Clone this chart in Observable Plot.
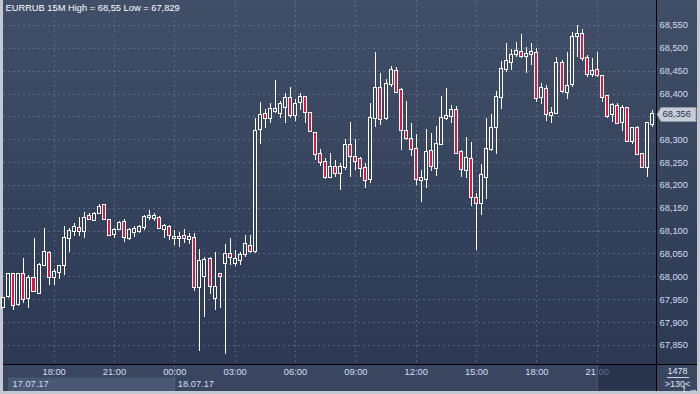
<!DOCTYPE html>
<html>
<head>
<meta charset="utf-8">
<script src="https://cdn.jsdelivr.net/npm/d3@7"></script>
<script src="https://cdn.jsdelivr.net/npm/@observablehq/plot@0.6"></script>
<style>
html, body { margin: 0; padding: 0; background: #c4c9d1; }
#chart { width: 700px; height: 394px; position: relative; }
#chart svg { display: block; }
</style>
</head>
<body>
<svg width="0" height="0" style="position:absolute">
  <defs>
    <linearGradient id="bgGrad" gradientUnits="userSpaceOnUse" x1="0" y1="0" x2="0" y2="364">
      <stop offset="0" stop-color="#414e68"/>
      <stop offset="0.5" stop-color="#37445e"/>
      <stop offset="1" stop-color="#2c3854"/>
    </linearGradient>
  </defs>
</svg>
<div id="chart"></div>
<script>
// ---------- data ----------
const title = "EURRUB 15M High = 68,55 Low = 67,829";
const startTime = "2017-07-17T15:30:00Z";   // first 15-minute bar
const stepMinutes = 15;

const open = [
67.933,67.957,68.005,67.939,68.005,67.952,67.996,67.963,68.025,68.052,
67.999,68.010,68.025,68.083,68.099,68.105,68.099,68.132,68.123,68.138,
68.156,68.123,68.092,68.103,68.119,68.083,68.097,68.099,68.108,68.130,
68.128,68.128,68.103,68.108,68.086,68.083,68.088,68.081,68.083,67.977,
68.001,68.038,67.952,68.005,68.029,68.049,68.029,68.036,68.049,68.067,
68.056,68.322,68.355,68.346,68.362,68.357,68.371,68.390,68.353,68.382,
68.393,68.357,68.314,68.268,68.251,68.218,68.239,68.226,68.239,68.287,
68.261,68.257,68.237,68.213,68.346,68.412,68.346,68.421,68.449,68.408,
68.318,68.300,68.279,68.211,68.213,68.274,68.237,68.290,68.346,68.351,
68.364,68.272,68.233,68.257,68.171,68.160,68.218,68.279,68.327,68.393,
68.454,68.469,68.487,68.491,68.482,68.487,68.489,68.393,68.410,68.353,
68.357,68.467,68.403,68.421,68.526,68.530,68.478,68.443,68.452,68.438,
68.395,68.355,68.373,68.338,68.368,68.296,68.324,68.268,68.239,68.333];

const high = [
67.955,68.007,68.007,68.007,68.040,68.003,68.083,68.029,68.105,68.056,
68.016,68.025,68.110,68.105,68.116,68.130,68.141,68.138,68.141,68.158,
68.158,68.125,68.105,68.121,68.125,68.105,68.110,68.112,68.134,68.145,
68.138,68.132,68.114,68.112,68.101,68.097,68.103,68.095,68.095,68.060,
68.043,68.043,68.054,68.007,68.071,68.083,68.058,68.054,68.090,68.090,
68.346,68.382,68.366,68.379,68.430,68.384,68.401,68.415,68.388,68.401,
68.393,68.360,68.314,68.279,68.259,68.270,68.255,68.248,68.300,68.338,
68.300,68.261,68.248,68.379,68.491,68.445,68.432,68.460,68.458,68.412,
68.384,68.335,68.311,68.233,68.322,68.314,68.329,68.395,68.412,68.375,
68.373,68.276,68.305,68.294,68.182,68.246,68.346,68.355,68.406,68.471,
68.511,68.497,68.513,68.530,68.502,68.511,68.500,68.423,68.419,68.371,
68.480,68.473,68.491,68.535,68.550,68.541,68.484,68.478,68.491,68.441,
68.397,68.379,68.379,68.375,68.371,68.327,68.329,68.270,68.338,68.364];

const low = [
67.930,67.952,67.926,67.935,67.941,67.930,67.966,67.961,68.023,67.981,
67.981,67.994,68.003,68.054,68.088,68.088,68.083,68.123,68.121,68.136,
68.123,68.088,68.083,68.101,68.076,68.080,68.086,68.095,68.101,68.123,
68.121,68.103,68.083,68.080,68.069,68.065,68.073,68.071,67.968,67.837,
67.911,67.961,67.926,67.930,67.829,68.025,68.023,68.025,68.043,68.052,
68.052,68.290,68.324,68.335,68.357,68.346,68.335,68.346,68.340,68.364,
68.335,68.316,68.255,68.242,68.213,68.215,68.218,68.189,68.233,68.218,
68.233,68.218,68.193,68.204,68.327,68.331,68.342,68.415,68.401,68.276,
68.298,68.263,68.200,68.163,68.193,68.231,68.220,68.287,68.342,68.335,
68.268,68.218,68.215,68.154,68.058,68.134,68.169,68.274,68.268,68.366,
68.447,68.452,68.480,68.478,68.445,68.462,68.382,68.377,68.340,68.335,
68.355,68.401,68.388,68.415,68.480,68.471,68.436,68.436,68.436,68.382,
68.346,68.338,68.335,68.318,68.294,68.290,68.266,68.237,68.218,68.327];

const close = [
67.952,68.005,67.937,68.005,67.950,67.996,67.968,68.025,68.054,67.999,
68.010,68.023,68.083,68.099,68.108,68.099,68.128,68.125,68.136,68.152,
68.125,68.090,68.101,68.116,68.086,68.101,68.103,68.108,68.130,68.132,
68.132,68.105,68.110,68.090,68.083,68.086,68.083,68.086,67.977,68.034,
68.036,67.979,67.977,68.001,68.049,68.043,68.038,68.047,68.071,68.056,
68.318,68.353,68.346,68.366,68.366,68.377,68.390,68.353,68.377,68.393,
68.360,68.318,68.268,68.251,68.218,68.239,68.226,68.239,68.287,68.263,
68.252,68.237,68.211,68.346,68.412,68.344,68.421,68.452,68.403,68.320,
68.303,68.279,68.213,68.215,68.272,68.242,68.290,68.346,68.351,68.364,
68.270,68.235,68.259,68.174,68.160,68.222,68.279,68.324,68.393,68.454,
68.471,68.484,68.493,68.482,68.487,68.491,68.390,68.412,68.355,68.357,
68.467,68.406,68.417,68.524,68.530,68.478,68.443,68.449,68.441,68.393,
68.351,68.375,68.335,68.368,68.296,68.324,68.268,68.239,68.335,68.356];

const yTicks = [67.85,67.90,67.95,68.00,68.05,68.10,68.15,68.20,68.25,68.30,68.35,68.40,68.45,68.50,68.55];
const xTickTimes = ["2017-07-17T18:00:00Z","2017-07-17T21:00:00Z","2017-07-18T00:00:00Z","2017-07-18T03:00:00Z",
  "2017-07-18T06:00:00Z","2017-07-18T09:00:00Z","2017-07-18T12:00:00Z","2017-07-18T15:00:00Z",
  "2017-07-18T18:00:00Z","2017-07-18T21:00:00Z"];
const dateLabels = ["17.07.17", "18.07.17"];
const dayStart = "2017-07-18T00:00:00Z";
const shiftStart = "2017-07-18T21:00:00Z";
const lastPrice = 68.356;
const totalBars = "1478";
const shownBars = ">130<";
const yDomain = [67.8082, 68.6047];

// ---------- build ----------
const t0 = new Date(startTime);
const MIN = 60000;
const candles = open.map((o, i) => ({
  t: new Date(+t0 + i * stepMinutes * MIN),
  o, h: high[i], l: low[i], c: close[i]
}));
const up = candles.filter(d => d.c >= d.o);
const down = candles.filter(d => d.c < d.o);
const xDomain = [new Date(+t0 - 1 * MIN), new Date(+t0 + (129.79 * stepMinutes) * MIN)];
const xTicks = xTickTimes.map(s => new Date(s));
// the price tag hides the axis label it sits on
const yLabelTicks = yTicks.filter(v => Math.abs(v - lastPrice) > 0.02);
const fmtPrice = d => d.toFixed(3).replace(".", ",");
const half = 4.5 * MIN;

const textColor = "#d3def3";
const red = "#e3173e";

function backdrop(index, scales, values, dims) {
  const {width, height, marginBottom} = dims;
  const yb = height - marginBottom;
  const g = d3.create("svg:g");
  g.append("rect").attr("x", 3).attr("y", 0).attr("width", width - 6).attr("height", yb).attr("fill", "url(#bgGrad)");
  g.append("rect").attr("x", 3).attr("y", yb).attr("width", width - 6).attr("height", marginBottom - 3).attr("fill", "#3a4660");
  const xd = scales.x(new Date(dayStart));
  g.append("rect").attr("x", 8).attr("y", yb + 13.5).attr("width", xd - 8).attr("height", marginBottom - 16.5)
    .attr("fill", "#4a5773");
  g.append("line").attr("x1", Math.round(xd) + 0.5).attr("x2", Math.round(xd) + 0.5).attr("y1", yb).attr("y2", height - 3)
    .attr("stroke", "#55627c");
  return g.node();
}

function chrome(index, scales, values, dims) {
  const {width, height, marginRight, marginBottom} = dims;
  const xr = width - marginRight;
  const yb = height - marginBottom;
  const g = d3.create("svg:g");
  // dark overlay in the time strip
  const xs = Math.round(scales.x(new Date(shiftStart)));
  g.append("rect").attr("x", xs).attr("y", yb + 1).attr("width", xr - xs).attr("height", marginBottom - 4.5)
    .attr("fill", "#1c2640").attr("fill-opacity", 0.6);
  g.append("line").attr("x1", xs + 0.5).attr("x2", xs + 0.5).attr("y1", yb + 1).attr("y2", height - 4)
    .attr("stroke", "#4f5767");
  // frame lines
  g.append("line").attr("x1", 3).attr("x2", width - 3).attr("y1", yb + 0.5).attr("y2", yb + 0.5).attr("stroke", "#000");
  g.append("line").attr("x1", xr + 0.5).attr("x2", xr + 0.5).attr("y1", 0).attr("y2", height - 3).attr("stroke", "#000");
  // separator line for bar counters
  g.append("line").attr("x1", xr + 11).attr("x2", xr + 33).attr("y1", yb + 13.5).attr("y2", yb + 13.5).attr("stroke", "#c9d3e3");
  // price tag
  const yp = Math.round(scales.y(lastPrice)) + 0.5;
  const pts = [[xr + 1, yp], [xr + 5, yp - 7], [width - 4, yp - 7], [width - 4, yp + 7], [xr + 5, yp + 7]];
  g.append("polygon").attr("points", pts.map(p => p.join(",")).join(" "))
    .attr("fill", "#c9cdd4").attr("stroke", "#8e97a7");
  return g.node();
}

const chart = Plot.plot({
  width: 700,
  height: 394,
  marginLeft: 3,
  marginRight: 44,
  marginTop: 0,
  marginBottom: 30,
  style: {background: "transparent", fontFamily: "'Liberation Sans', Arial, sans-serif", fontSize: "9px", overflow: "visible"},
  x: {type: "utc", domain: xDomain, axis: null},
  y: {domain: yDomain, axis: null},
  marks: [
    backdrop,
    Plot.ruleY(yTicks, {stroke: "#7886a2", strokeOpacity: 0.55, strokeDasharray: "2,3", shapeRendering: "crispEdges"}),
    Plot.ruleX(xTicks, {stroke: "#7886a2", strokeOpacity: 0.55, strokeDasharray: "2,3", shapeRendering: "crispEdges"}),
    Plot.ruleX(candles, {x: "t", y1: "l", y2: "h", stroke: "#ffffff", strokeWidth: 1, shapeRendering: "crispEdges"}),
    Plot.rect(up, {x1: d => new Date(+d.t - half), x2: d => new Date(+d.t + half), y1: "o", y2: "c",
      fill: "url(#bgGrad)", stroke: "#ffffff", strokeWidth: 1, insetTop: -0.5, insetBottom: -0.5, shapeRendering: "crispEdges"}),
    Plot.rect(down, {x1: d => new Date(+d.t - half), x2: d => new Date(+d.t + half), y1: "o", y2: "c",
      fill: red, stroke: "#ffffff", strokeWidth: 1, insetTop: -0.5, insetBottom: -0.5, shapeRendering: "crispEdges"}),
    Plot.axisY(yLabelTicks, {anchor: "right", tickSize: 0, tickPadding: 3, tickFormat: fmtPrice, fill: textColor, fontSize: 9.3}),
    Plot.axisX(xTicks, {anchor: "bottom", tickSize: 0, tickPadding: 4, tickFormat: d3.utcFormat("%H:%M"), fill: textColor, fontSize: 9.3}),
    chrome,
    Plot.text([lastPrice], {y: d => d, frameAnchor: "right", dx: 6, textAnchor: "start", text: fmtPrice,
      fill: "#213460", fontSize: 9.3}),
    Plot.text([title], {frameAnchor: "top-left", dx: 2, dy: 8, lineAnchor: "middle", textAnchor: "start",
      fill: "#ffffff", fontSize: 9.3}),
    Plot.text([dateLabels[0]], {frameAnchor: "bottom-left", dx: 9, dy: 20, lineAnchor: "middle", textAnchor: "start",
      fill: textColor, fontSize: 9.3}),
    Plot.text([dateLabels[1]], {x: () => new Date(dayStart), frameAnchor: "bottom", dx: 3, dy: 20, lineAnchor: "middle",
      textAnchor: "start", fill: textColor, fontSize: 9.3}),
    Plot.text([totalBars], {frameAnchor: "bottom-right", dx: 21, dy: 7, lineAnchor: "middle", textAnchor: "middle",
      fill: "#dfe6f1", fontSize: 9}),
    Plot.text([shownBars], {frameAnchor: "bottom-right", dx: 21, dy: 20, lineAnchor: "middle", textAnchor: "middle",
      fill: "#dfe6f1", fontSize: 9})
  ]
});
document.getElementById("chart").appendChild(chart);
</script>
</body>
</html>
